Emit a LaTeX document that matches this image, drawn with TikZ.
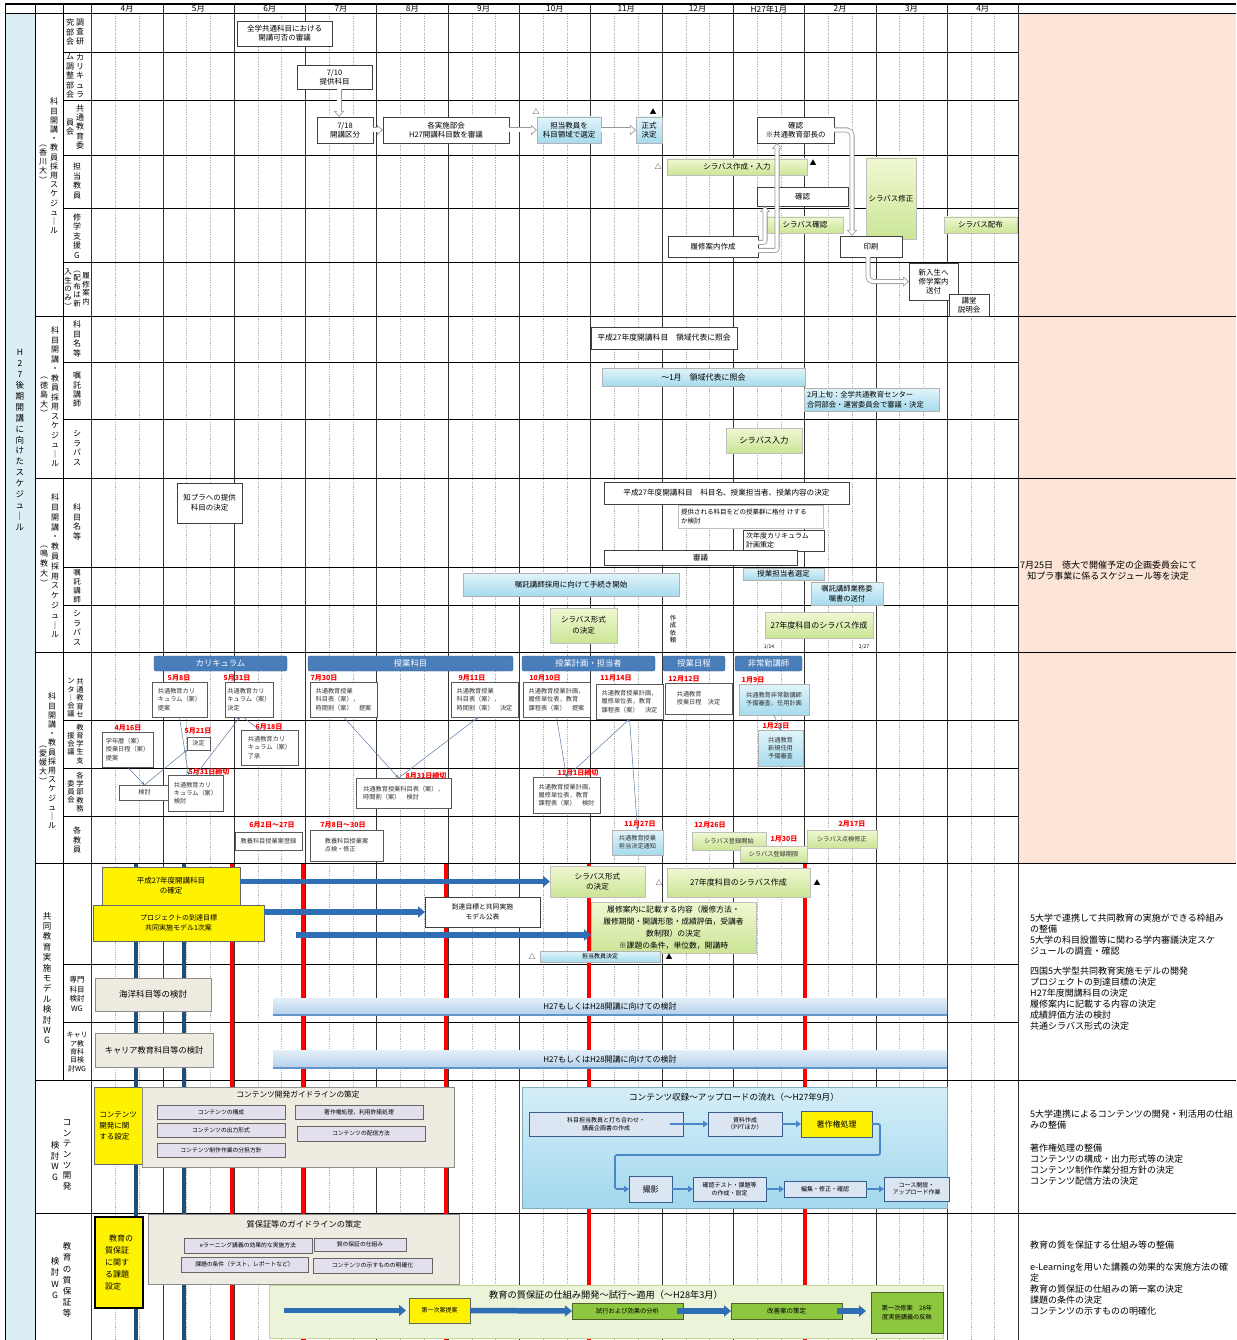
\documentclass[tikz,border=0pt]{standalone}
\usepackage{fontspec}
\setmainfont{Noto Sans CJK JP}
\usetikzlibrary{arrows.meta}
\definecolor{stripblue}{HTML}{DAEEF3}
\definecolor{peach}{HTML}{FCE4D6}
\definecolor{lbA}{HTML}{E2F4FA}
\definecolor{lbB}{HTML}{A6DBEE}
\definecolor{grA}{HTML}{F0F8D2}
\definecolor{grB}{HTML}{CBE596}
\definecolor{hdblue}{HTML}{4A7EBB}
\definecolor{beige}{HTML}{EEECE1}
\definecolor{lav}{HTML}{E4DFEC}
\definecolor{cbox}{HTML}{DCE6F2}
\definecolor{cedge}{HTML}{385D8A}
\definecolor{dgreen}{HTML}{8DC63F}
\definecolor{dgedge}{HTML}{4F6228}
\definecolor{arrblue}{HTML}{2F6DB5}
\definecolor{flowblue}{HTML}{4A86C8}
\definecolor{navyline}{HTML}{1F4E79}
\definecolor{bbA}{HTML}{D4EEF8}
\definecolor{bbB}{HTML}{A3D8EE}
\definecolor{lgreen}{HTML}{EBF3D8}
\definecolor{lgedge}{HTML}{C3D69B}
\definecolor{thinarr}{HTML}{5B7BA6}
\definecolor{barA}{HTML}{E3EFF8}
\definecolor{barB}{HTML}{B3D0EA}
\definecolor{barE}{HTML}{5F95C9}
\newcommand\fs[2]{\fontsize{#1}{#2}\selectfont}
\newcommand\bxn[7]{\node[bxbase,#6,minimum width={#4-#2},minimum height={#5-#3}] (#1) at ({(#2+#4)/2},{(#3+#5)/2}) {#7};}
\newcommand\harrow[2][]{\draw[hollowout,#1] #2; \draw[hollowin,#1] #2;}
\begin{document}
\begin{tikzpicture}[x=1pt,y=-1pt,
 bxbase/.style={inner sep=0pt,outer sep=0pt,align=center},
 wb/.style={draw=black!75,fill=white,line width=0.5pt,font=\fs{7.5}{9}},
 wbl/.style={draw=black!25,fill=white,line width=0.4pt,font=\fs{6.5}{8.5}},
 lbx/.style={draw=black!30,top color=lbA,bottom color=lbB,line width=0.4pt,font=\fs{7.5}{9}},
 gbx/.style={draw=black!25,top color=grA,bottom color=grB,line width=0.4pt,font=\fs{7.5}{9}},
 hdr/.style={fill=hdblue,draw=hdblue!70!black,rounded corners=2pt,text=white,font=\fs{8.3}{9}},
 ybx/.style={fill=yellow,draw=black!60,line width=0.4pt},
 bbx/.style={fill=beige,draw=black!45,line width=0.5pt},
 lvx/.style={fill=lav,draw=black!60,line width=0.5pt,font=\fs{5.8}{7}},
 cbx/.style={fill=cbox,draw=cedge,line width=0.6pt,font=\fs{6}{7.5}},
 dgx/.style={fill=dgreen,draw=dgedge,line width=0.5pt,font=\fs{6.3}{8}},
 s4/.style={draw=black!65,fill=white,line width=0.5pt,font=\fs{6.2}{8.2},text=black!80,align=left},
 rd/.style={text=red,font=\fs{7}{7}\bfseries,inner sep=0pt},
 vt/.style={align=center,inner sep=0pt,font=\fs{8}{9.4}},
 vts/.style={align=center,inner sep=0pt,font=\fs{7.3}{8.2}},
 rt/.style={align=left,inner sep=0pt,font=\fs{9}{11},anchor=west},
 tri/.style={inner sep=0pt,font=\fs{7}{7}},
 hollowout/.style={draw=black!40,line width=5pt,-{Triangle[length=6pt,width=10pt]}},
 hollowin/.style={draw=white,line width=3.4pt,shorten >=1.3pt,-{Triangle[length=4pt,width=7pt]}},
 barr/.style={draw=arrblue,line width=5.5pt,-{Triangle[length=7pt,width=11pt]}},
 farr/.style={draw=flowblue,line width=1.8pt,-{Triangle[length=5pt,width=6.5pt]}},
 tarr/.style={draw=thinarr,line width=0.5pt,-{Stealth[length=3.5pt,width=3pt]}},
]
\useasboundingbox (0,0) rectangle (1236,1340);
\fill[white] (0,0) rectangle (1236,1340);
% ---------- background ----------
\fill[stripblue] (5,13.5) rectangle (35,1340);
\fill[peach] (1018.4,13.5) rectangle (1236,863);
\foreach \i in {0,...,12}{
  \foreach \j in {1,2}{
    \draw[gray!60,line width=0.35pt,dash pattern=on 1.2pt off 1.2pt] ({91.5+71.3*\i+23.77*\j},13.5) -- ({91.5+71.3*\i+23.77*\j},1340);
  }
}
\foreach \i in {0,...,13}{\draw[black!80,line width=0.6pt] ({91.5+71.3*\i},4) -- ({91.5+71.3*\i},1340);}
\draw[line width=1.2pt] (5,4) -- (1236,4);
\draw[line width=1.2pt] (5,13.5) -- (1236,13.5);
\foreach \y in {316,478,652,863}{\draw[line width=1pt] (35,\y) -- (1236,\y);}
\foreach \y in {1080,1213}{\draw[line width=0.8pt] (35,\y) -- (1236,\y);}
\foreach \y in {52,100,155,208,262,362,419,567,605,720,768,816,964,1022}{\draw[line width=0.5pt] (63,\y) -- (1018.4,\y);}
\draw[line width=1pt] (5,4) -- (5,1340);
\draw[line width=0.6pt] (35,4) -- (35,1340);
\draw[line width=0.6pt] (63,4) -- (63,1080);
% thick colored lines
\foreach \x in {136,184}{\draw[navyline,line width=3.5pt] (\x,863.5) -- (\x,1340);}
\foreach \x in {232,303,446,589,805}{\draw[red,line width=3.5pt] (\x,863.5) -- (\x,1340);}
% ---------- month header ----------
\foreach \m [count=\i from 0] in {4月,5月,6月,7月,8月,9月,10月,11月,12月,H27年1月,2月,3月,4月}{
  \node[inner sep=0pt,font=\fs{8.3}{9}] (m\i) at ({91.5+71.3*\i+35.65},9) {\m};
}
% ---------- row labels ----------
\node[vt,font=\fs{8.5}{10.9}] (L0) at (20,440) {H\\2\\7\\後\\期\\開\\講\\に\\向\\け\\た\\ス\\ケ\\ジ\\ュ\\｜\\ル};
\node[vt,font=\fs{8}{9.2}] (L1a) at (54,166) {科\\目\\開\\講\\・\\教\\員\\採\\用\\ス\\ケ\\ジ\\ュ\\｜\\ル};
\node[vt,font=\fs{8}{9.2}] (L1b) at (43,164) {︵\\香\\川\\大\\︶};
\node[vt,font=\fs{8}{9.5}] (L2a) at (55,397) {科\\目\\開\\講\\・\\教\\員\\採\\用\\ス\\ケ\\ジ\\ュ\\｜\\ル};
\node[vt,font=\fs{8}{9.5}] (L2b) at (44,397) {︵\\徳\\島\\大\\︶};
\node[vt,font=\fs{8}{9.8}] (L3a) at (55,566) {科\\目\\開\\講\\・\\教\\員\\採\\用\\ス\\ケ\\ジ\\ュ\\｜\\ル};
\node[vt,font=\fs{8}{9.8}] (L3b) at (44,566) {︵\\鳴\\教\\大\\︶};
\node[vt,font=\fs{8}{9.2}] (L4a) at (52,761) {科\\目\\開\\講\\・\\教\\員\\採\\用\\ス\\ケ\\ジ\\ュ\\｜\\ル};
\node[vt,font=\fs{8}{9.2}] (L4b) at (43,765) {︵\\愛\\媛\\大\\︶};
% section 1 sub labels
\node[vt] (S1a) at (80,32) {調\\査\\研};
\node[vt] (S1b) at (70,32) {究\\部\\会};
\node[vt] (S1c) at (80,76) {カ\\リ\\キ\\ュ\\ラ};
\node[vt] (S1d) at (70,76) {ム\\調\\整\\部\\会};
\node[vt] (S1e) at (80,127) {共\\通\\教\\育\\委};
\node[vt] (S1f) at (70,127) {員\\会};
\node[vt] (S1g) at (77,181) {担\\当\\教\\員};
\node[vt] (S1h) at (77,236) {修\\学\\支\\援\\G};
\node[vt,font=\fs{7.5}{8.6}] (S1i) at (86,289) {履\\修\\案\\内};
\node[vt,font=\fs{7.5}{8.6}] (S1j) at (77,289) {︵\\配\\布\\は\\新};
\node[vt,font=\fs{7.5}{8.6}] (S1k) at (68,289) {入\\生\\の\\み\\︶};
% section 2/3 sub labels
\node[vt] (S2a) at (77,339) {科\\目\\名\\等};
\node[vt] (S2b) at (77,390) {嘱\\託\\講\\師};
\node[vt] (S2c) at (77,448) {シ\\ラ\\バ\\ス};
\node[vt] (S3a) at (77,522) {科\\目\\名\\等};
\node[vt,font=\fs{7.5}{9}] (S3b) at (77,586) {嘱\\託\\講\\師};
\node[vt] (S3c) at (77,628) {シ\\ラ\\バ\\ス};
% section 4 sub labels
\node[vts] (S4a) at (80,698) {共\\通\\教\\育\\セ};
\node[vts] (S4b) at (71,698) {ン\\タ\\｜\\会\\議};
\node[vts] (S4c) at (80,744) {教\\育\\学\\生\\支};
\node[vts] (S4d) at (71,744) {援\\会\\議};
\node[vts] (S4e) at (80,792) {各\\学\\部\\教\\務};
\node[vts] (S4f) at (71,792) {委\\員\\会};
\node[vt] (S4g) at (77,840) {各\\教\\員};
% section 5/6 labels
\node[vt,font=\fs{8.5}{10.4}] (S5a) at (47,978) {共\\同\\教\\育\\実\\施\\モ\\デ\\ル\\検\\討\\W\\G};
\node[vt,font=\fs{7.5}{9.6}] (S5b) at (77,994) {専門\\科目\\検討\\WG};
\node[vt,font=\fs{7}{8.3}] (S5c) at (77,1052) {キャリ\\ア教\\育科\\目検\\討WG};
\node[vt,font=\fs{8.5}{10.6}] (S6a) at (67,1155) {コ\\ン\\テ\\ン\\ツ\\開\\発};
\node[vt,font=\fs{8.5}{10.6}] (S6b) at (55,1161) {検\\討\\W\\G};
\node[vt,font=\fs{8.5}{11.2}] (S6c) at (67,1280) {教\\育\\の\\質\\保\\証\\等};
\node[vt,font=\fs{8.5}{11.2}] (S6d) at (55,1278) {検\\討\\W\\G};
% ---------- section 1 ----------
\bxn{s1a}{237}{21}{332}{46}{wb}{全学共通科目における\\開講可否の審議}
\bxn{s1b}{297}{65}{372}{89}{wb}{7/10\\提供科目}
\bxn{s1c}{317}{117}{373}{143}{wb}{7/18\\開講区分}
\bxn{s1d}{383}{117}{509}{143}{wb}{各実施部会\\H27開講科目数を審議}
\bxn{s1e}{537}{117}{601}{143}{lbx}{担当教員を\\科目領域で選定}
\bxn{s1f}{636}{117}{662}{143}{lbx}{正式\\決定}
\bxn{s1g}{757}{117}{834}{143}{wb}{確認\\※共通教育部長の}
\node[tri] (t1) at (536,112) {△};
\node[tri] (t2) at (653,112) {▲};
\node[tri] (t3) at (658,167) {△};
\bxn{s1h}{667}{159}{807}{175}{gbx}{シラバス作成・入力}
\node[tri] (t4) at (813,163) {▲};
\bxn{s1i}{757}{187}{848}{206}{wb}{確認}
\bxn{s1j}{866}{158}{916}{239}{gbx}{シラバス修正}
\bxn{s1k}{767}{217}{843}{233}{gbx}{シラバス確認}
\bxn{s1l}{668}{236}{758}{257}{wb}{履修案内作成}
\bxn{s1m}{944}{217}{1017}{233}{gbx}{シラバス配布}
\bxn{s1n}{840}{236}{902}{257}{wb}{印刷}
\bxn{s1o}{909}{263}{958}{300}{wb}{新入生へ\\修学案内\\送付}
\bxn{s1p}{949}{294}{989}{316}{wb}{講堂\\説明会}
\harrow{(339,0 |- s1b.south) -- (339,0 |- s1c.north)}
\harrow{(s1c.east) -- (s1d.west)}
\harrow{(s1d.east) -- (s1e.west)}
\harrow{(s1e.east) -- (s1f.west)}
\harrow[rounded corners=5pt]{(s1g.east) -- (852,0 |- s1g.east) -- (852,0 |- s1n.north)}
\coordinate (ha1) at ([yshift=4pt]s1l.east);
\coordinate (ha2) at ([yshift=-4pt]s1l.east);
\coordinate (ha3) at ([xshift=-3pt]s1n.south);
\harrow[rounded corners=2pt]{(ha1) -- (ha1 -| 765,0) -- (765,0 |- s1i.south)}
\harrow[rounded corners=2pt]{(ha2) -- (ha2 -| 777,0) -- (777,0 |- s1g.south)}
\harrow[rounded corners=5pt]{(ha3) -- (ha3 |- s1o.west) -- (s1o.west)}
% ---------- section 2 ----------
\bxn{s2a}{591}{327}{737}{349}{wb,font=\fs{7.8}{9}}{平成27年度開講科目　領域代表に照会}
\bxn{s2b}{602}{368}{805}{386}{lbx,font=\fs{8}{9}}{～1月　領域代表に照会}
\bxn{s2c}{804}{388}{939}{411}{lbx,font=\fs{7.3}{9.5},text width=129pt,align=left}{2月上旬：全学共通教育センター\\合同部会・運営委員会で審議・決定}
\bxn{s2d}{726}{428}{802}{453}{gbx,font=\fs{8.2}{9}}{シラバス入力}
% ---------- section 3 ----------
\bxn{s3a}{177}{483}{242}{523}{wb,font=\fs{7.5}{10}}{知プラへの提供\\科目の決定}
\bxn{s3b}{604}{482}{849}{504}{wb,font=\fs{7.6}{9}}{平成27年度開講科目　科目名、授業担当者、授業内容の決定}
\bxn{s3c}{678}{505}{823}{528}{wbl,text width=139pt,align=left}{提供される科目をどの授業群に格付 けする\\か検討}
\bxn{s3d}{743}{530}{824}{551}{wb,font=\fs{7}{9},text width=75pt,align=left}{次年度カリキュラム\\計画策定}
\bxn{s3e}{604}{550}{797}{565}{wb}{審議}
\bxn{s3f}{463}{573}{679}{596}{lbx}{嘱託講師採用に向けて手続き開始}
\bxn{s3g}{743}{568}{824}{580}{lbx,font=\fs{7.5}{8}}{授業担当者選定}
\bxn{s3h}{811}{582}{883}{605}{lbx,font=\fs{7.3}{9.5}}{嘱託講師業務委\\嘱書の送付}
\bxn{s3i}{550}{608}{617}{643}{gbx,font=\fs{7.5}{11}}{シラバス形式\\の決定}
\node[vt,font=\fs{6.3}{7.3}] (s3j) at (673,629) {作\\成\\依\\頼};
\bxn{s3k}{765}{612}{873}{638}{gbx,font=\fs{8}{9}}{27年度科目のシラバス作成}
\node[inner sep=0pt,font=\fs{5}{5}] (s3l) at (769,647) {1/14};
\node[inner sep=0pt,font=\fs{5}{5}] (s3m) at (864,647) {2/27};
% ---------- section 4 ----------
\bxn{h1}{154}{656}{287}{671}{hdr}{カリキュラム}
\bxn{h2}{308}{656}{513}{671}{hdr}{授業科目}
\bxn{h3}{522}{656}{655}{671}{hdr}{授業計画・担当者}
\bxn{h4}{663}{656}{725}{671}{hdr}{授業日程}
\bxn{h5}{735}{656}{802}{671}{hdr}{非常勤講師}
\bxn{c58}{152}{682}{207}{717}{s4}{共通教育カリ\\キュラム（案）\\提案}
\bxn{c531}{225}{682}{273}{717}{s4}{共通教育カリ\\キュラム（案）\\決定}
\bxn{c730}{310}{682}{377}{717}{s4}{共通教育授業\\科目表（案），\\時間割（案）　提案}
\bxn{c911}{451}{682}{518}{717}{s4}{共通教育授業\\科目表（案），\\時間割（案）　決定}
\bxn{c1010}{523}{682}{590}{717}{s4}{共通教育授業計画，\\履修単位表，教育\\課程表（案）　提案}
\bxn{c1114}{596}{684}{663}{719}{s4}{共通教育授業計画，\\履修単位表，教育\\課程表（案）　決定}
\bxn{c1212}{665}{683}{732}{714}{s4}{共通教育\\授業日程　決定}
\bxn{c19}{739}{684}{809}{715}{s4,lbx,font=\fs{6.2}{8.2}}{共通教育非常勤講師\\予備審査，任用計画}
\bxn{d416}{102}{732}{153}{767}{s4}{学年暦（案）\\授業日程（案）\\提案}
\bxn{kettei}{187}{737}{210}{750}{s4}{決定}
\bxn{c618}{241}{730}{298}{765}{s4}{共通教育カリ\\キュラム（案）\\了承}
\bxn{c123}{758}{730}{803}{766}{s4,lbx,font=\fs{6.2}{8.2}}{共通教育\\新規任用\\予備審査}
\bxn{kento}{119}{785}{170}{800}{s4}{検討}
\bxn{curk}{168}{775}{223}{811}{s4}{共通教育カリ\\キュラム（案）\\検討}
\bxn{k831}{356}{778}{451}{808}{s4}{共通教育授業科目表（案），\\時間割（案）　検討}
\bxn{k111}{533}{777}{600}{813}{s4}{共通教育授業計画，\\履修単位表，教育\\課程表（案）　検討}
\bxn{e62}{235}{832}{302}{850}{s4}{教養科目授業案登録}
\bxn{e78}{310}{830}{383}{861}{s4}{教養科目授業案\\点検・修正}
\bxn{c1127}{612}{830}{663}{855}{s4,lbx,font=\fs{6.2}{8.2}}{共通教育授業\\担当決定通知}
\bxn{c1226}{692}{832}{766}{850}{s4,gbx,font=\fs{6.2}{8.2}}{シラバス登録開始}
\bxn{c130}{740}{846}{807}{862}{s4,gbx,font=\fs{6.2}{8.2}}{シラバス登録期限}
\bxn{c217}{807}{830}{877}{848}{s4,gbx,font=\fs{6.2}{8.2}}{シラバス点検修正}
\node[rd] (r1) at (179,678) {5月8日};
\node[rd] (r2) at (237,678) {5月31日};
\node[rd] (r3) at (324,678) {7月30日};
\node[rd] (r4) at (472,678) {9月11日};
\node[rd] (r5) at (545,678) {10月10日};
\node[rd] (r6) at (616,678) {11月14日};
\node[rd] (r7) at (684,679) {12月12日};
\node[rd] (r8) at (753,680) {1月9日};
\node[rd] (r9) at (128,728) {4月16日};
\node[rd] (r10) at (198,731) {5月21日};
\node[rd] (r11) at (269,727) {6月18日};
\node[rd] (r12) at (776,726) {1月23日};
\node[rd] (r13) at (209,772) {5月31日締切};
\node[rd] (r14) at (426,776) {8月31日締切};
\node[rd] (r15) at (578,773) {11月1日締切};
\node[rd] (r16) at (272,825) {6月2日～27日};
\node[rd] (r17) at (343,825) {7月8日～30日};
\node[rd] (r18) at (640,824) {11月27日};
\node[rd] (r19) at (710,825) {12月26日};
\node[rd] (r20) at (784,839) {1月30日};
\node[rd] (r21) at (852,824) {2月17日};
\draw[tarr] (d416.south) -- (kento.north);
\draw[tarr] (kento.north) -- (kettei.south west);
\draw[tarr] (c58.south) -- ([xshift=-7pt]curk.north);
\draw[tarr] (curk.north) -- ([xshift=-9pt]c531.south);
\draw[tarr] ([xshift=-6pt]c531.south) -- ([xshift=-10pt]c618.north);
\draw[tarr] (c730.south) -- ([xshift=-5pt]k831.north);
\draw[tarr] ([xshift=-5pt]k831.north) -- ([xshift=-6pt]c911.south);
\draw[tarr] (c1010.south) -- (k111.north);
\draw[tarr] (k111.north) -- (c1114.south);
\draw[tarr] (c1114.south) -- (c1127.north);
\draw[tarr] (c19.south) -- (c123.north);
% ---------- section 5 ----------
\bxn{y1}{102}{867}{240}{905}{ybx,font=\fs{7.5}{10}}{平成27年度開講科目\\の確定}
\bxn{y2}{93}{905}{264}{941}{ybx,font=\fs{7}{10}}{プロジェクトの到達目標\\共同実施モデル1次案}
\bxn{f1}{425}{897}{540}{927}{wb,font=\fs{6.8}{10}}{到達目標と共同実施\\モデル公表}
\bxn{g1}{550}{866}{645}{897}{gbx,font=\fs{7.6}{10}}{シラバス形式\\の決定}
\bxn{g2}{667}{868}{810}{897}{gbx,font=\fs{8}{9}}{27年度科目のシラバス作成}
\bxn{g3}{591}{902}{756}{953}{gbx,font=\fs{7.8}{12}}{履修案内に記載する内容（履修方法・\\履修期間・開講形態・成績評価，受講者\\数制限）の決定\\※課題の条件，単位数，開講時}
\node[tri] (t5) at (659,883) {△};
\node[tri] (t6) at (817,883) {▲};
\bxn{tk}{540}{951}{660}{962}{lbx,font=\fs{6}{7}}{担当教員決定}
\node[tri] (t7) at (532,957) {△};
\node[tri] (t8) at (669,957) {▲};
\draw[barr] (y1.east |- g1.west) -- (g1.west);
\draw[barr] (y2.east |- f1.west) -- (f1.west);
\coordinate (ba3) at (296,935);
\draw[barr] (ba3) -- (ba3 -| g3.west);
\bxn{be1}{95}{978}{211}{1011}{bbx,font=\fs{8.5}{9}}{海洋科目等の検討}
\bxn{be2}{95}{1033}{213}{1067}{bbx,font=\fs{8.2}{9}}{キャリア教育科目等の検討}
\bxn{bar1}{273}{998}{947}{1015}{top color=barA,bottom color=barB,font=\fs{8}{9}}{H27もしくはH28開講に向けての検討}
\draw[barE,line width=2pt] (bar1.south west) -- (bar1.south east);
\bxn{bar2}{273}{1050}{947}{1068}{top color=barA,bottom color=barB,font=\fs{8}{9}}{H27もしくはH28開講に向けての検討}
\draw[barE,line width=2pt] (bar2.south west) -- (bar2.south east);
\node[rt] (R5) at (1030,972.5) {5大学で連携して共同教育の実施ができる枠組み\\の整備\\5大学の科目設置等に関わる学内審議決定スケ\\ジュールの調査・確認\\[9pt]四国5大学型共同教育実施モデルの開発\\プロジェクトの到達目標の決定\\H27年度開講科目の決定\\履修案内に記載する内容の決定\\成績評価方法の検討\\共通シラバス形式の決定};
\node[rt] (R3) at (1020,570.5) {7月25日　徳大で開催予定の企画委員会にて\\\hspace{0.8em}知プラ事業に係るスケジュール等を決定};
% ---------- section 6a ----------
\bxn{y3}{94}{1087}{142}{1164}{ybx,font=\fs{7.5}{11},align=left}{コンテンツ\\開発に関\\する設定}
\bxn{gl1}{142}{1087}{454}{1167}{bbx}{}
\node[inner sep=0pt,font=\fs{7.7}{8}] (gl1t) at (298,1095) {コンテンツ開発ガイドラインの策定};
\bxn{lv1}{157}{1105}{285}{1119}{lvx}{コンテンツの構成}
\bxn{lv2}{295}{1105}{423}{1119}{lvx}{著作権処理，利用許諾処理}
\bxn{lv3}{157}{1123}{285}{1137}{lvx}{コンテンツの出力形式}
\bxn{lv4}{297}{1126}{425}{1141}{lvx}{コンテンツの配信方法}
\bxn{lv5}{157}{1143}{285}{1157}{lvx}{コンテンツ制作作業の分担方針}
\bxn{bb}{522}{1087}{947}{1208}{top color=bbA,bottom color=bbB,draw=bbB!80!black,line width=0.4pt}{}
\node[inner sep=0pt,font=\fs{8.6}{9}] (bbt) at (734,1097) {コンテンツ収録～アップロードの流れ（～H27年9月）};
\bxn{cb1}{529}{1112}{683}{1136}{cbx}{科目担当教員と打ち合わせ・\\講義企画書の作成}
\bxn{cb2}{708}{1112}{782}{1136}{cbx}{資料作成\\（PPTほか）}
\bxn{cb3}{801}{1111}{872}{1137}{cbx,fill=yellow,font=\fs{8}{9}}{著作権処理}
\bxn{cb4}{629}{1176}{672}{1202}{cbx,font=\fs{8}{9}}{撮影}
\bxn{cb5}{693}{1177}{766}{1201}{cbx}{確認テスト・課題等\\の作成・設定}
\bxn{cb6}{784}{1181}{866}{1197}{cbx}{編集・修正・確認}
\bxn{cb7}{884}{1177}{949}{1201}{cbx}{コース開設・\\アップロード作業}
\draw[farr] ([xshift=-13pt]cb1.east) -- (cb2.west);
\draw[farr] (cb2.east) -- (cb3.west);
\draw[farr,rounded corners=2pt] (cb3.east) -- ++(8,0) |- (615,1155) |- (cb4.west);
\draw[farr] (cb4.east) -- (cb5.west);
\draw[farr] (cb5.east) -- (cb6.west);
\draw[farr] (cb6.east) -- (cb7.west);
\node[rt] (R6a) at (1030,1147.5) {5大学連携によるコンテンツの開発・利活用の仕組\\みの整備\\[12pt]著作権処理の整備\\コンテンツの構成・出力形式等の決定\\コンテンツ制作作業分担方針の決定\\コンテンツ配信方法の決定};
% ---------- section 6b ----------
\bxn{y4}{95}{1217}{143}{1308}{ybx,draw=black,line width=1.6pt,font=\fs{8}{12},align=left}{\hspace{0.5em}教育の\\質保証\\に関す\\る課題\\設定}
\bxn{gl2}{148}{1214}{459}{1284}{bbx}{}
\node[inner sep=0pt,font=\fs{8.2}{9}] (gl2t) at (304,1224) {質保証等のガイドラインの策定};
\bxn{lv6}{184}{1238}{312}{1253}{lvx}{eラーニング講義の効果的な実施方法}
\bxn{lv7}{314}{1238}{406}{1251}{lvx}{質の保証の仕組み}
\bxn{lv8}{181}{1257}{308}{1272}{lvx}{課題の条件（テスト，レポートなど）}
\bxn{lv9}{313}{1258}{432}{1273}{lvx}{コンテンツの示すものの明確化}
\bxn{lg}{269}{1285}{943}{1338}{fill=lgreen,draw=lgedge,line width=0.5pt}{}
\node[inner sep=0pt,font=\fs{9.2}{10}] (lgt) at (606,1295) {教育の質保証の仕組み開発～試行～適用（～H28年3月）};
\bxn{y5}{409}{1298}{470}{1323}{ybx,font=\fs{6}{7}}{第一次案提案}
\bxn{dg1}{572}{1303}{683}{1319}{dgx}{試行および効果の分析}
\bxn{dg2}{731}{1303}{842}{1319}{dgx,font=\fs{6.5}{8}}{改善案の策定}
\bxn{dg3}{871}{1292}{943}{1333}{dgx,font=\fs{6.2}{9}}{第一次修案　28年\\度実施講義の反映}
\coordinate (qa) at (284,1310.5);
\draw[barr,shorten >=3pt] (qa) -- (qa -| y5.west);
\draw[barr] (y5.east) -- (dg1.west);
\draw[barr] ([xshift=-6pt]dg1.east) -- (dg2.west);
\draw[barr] ([xshift=-5pt]dg2.east) -- ([xshift=-5pt]dg2.east -| dg3.west);
\node[rt] (R6b) at (1030,1278) {教育の質を保証する仕組み等の整備\\[11pt]e-Learningを用いた講義の効果的な実施方法の確\\定\\教育の質保証の仕組みの第一案の決定\\課題の条件の決定\\コンテンツの示すものの明確化};
\end{tikzpicture}
\end{document}
